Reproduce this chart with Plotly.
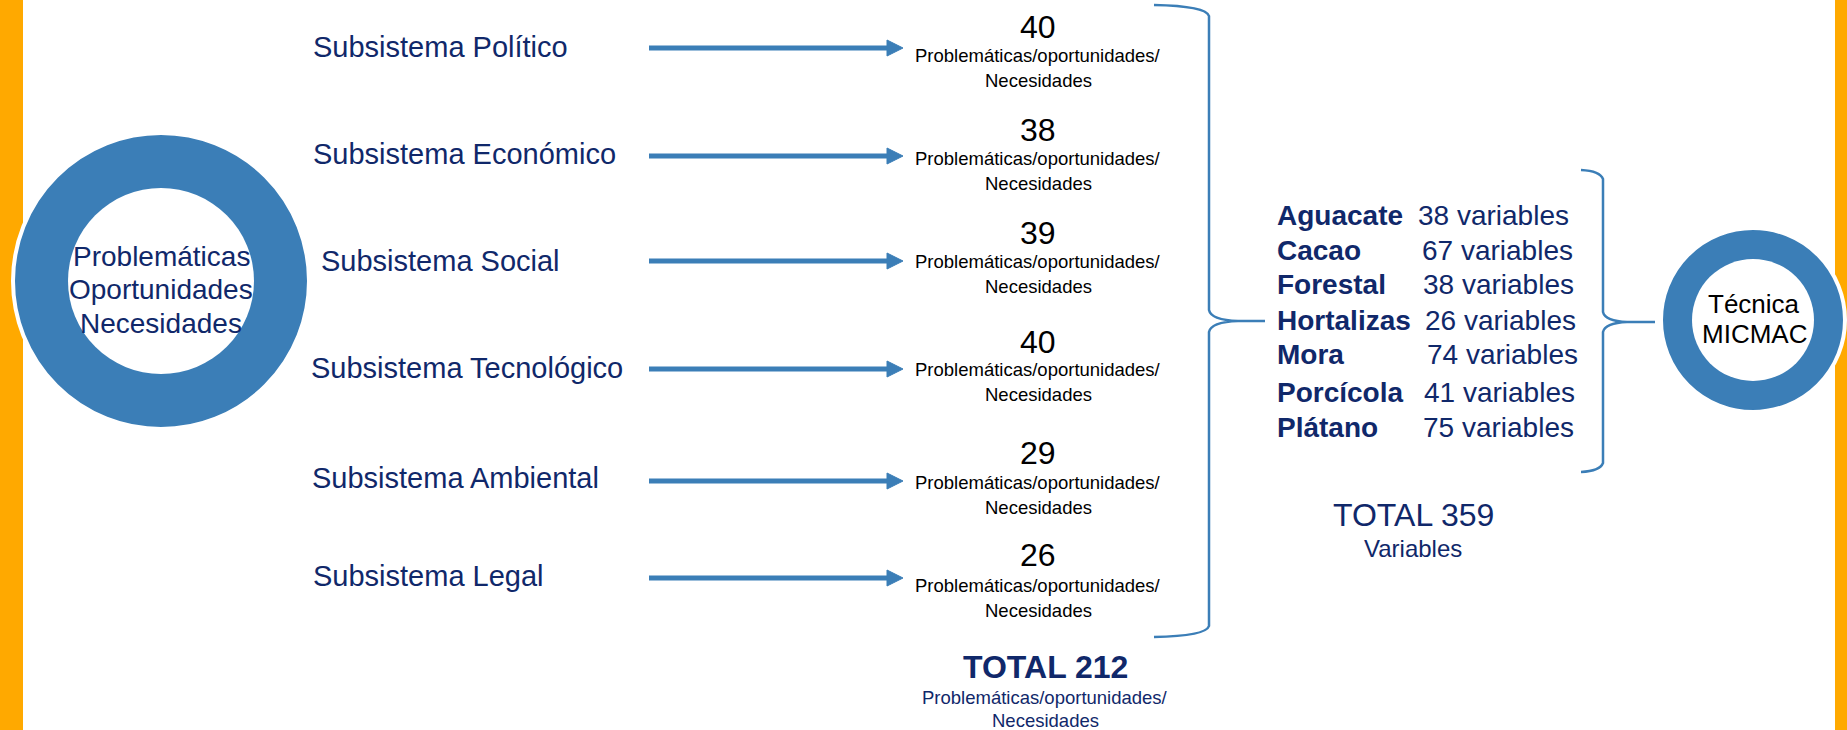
import plotly.graph_objects as go

# ---------------- data ----------------
subsystems = ["Subsistema Político", "Subsistema Económico", "Subsistema Social",
              "Subsistema Tecnológico", "Subsistema Ambiental", "Subsistema Legal"]
sub_counts = [40, 38, 39, 40, 29, 26]
sub_unit = ["Problemáticas/oportunidades/", "Necesidades"]

products = ["Aguacate", "Cacao", "Forestal", "Hortalizas", "Mora", "Porcícola", "Plátano"]
prod_vars = [38, 67, 38, 26, 74, 41, 75]

center_left = ["Problemáticas", "Oportunidades", "Necesidades"]
center_right = ["Técnica", "MICMAC"]

# ---------------- layout / style ----------------
W, H = 1847, 730
BLUE = "#3B7EB7"
NAVY = "#10286A"
ORANGE = "#FFA900"
FONT = "Liberation Sans, Arial, sans-serif"

label_x = [311, 311, 319, 309, 310, 311]
row_y = [47, 154, 261, 368, 478, 576]          # label rows
num_y = [27, 130, 233, 342, 453, 555]
unit_y = [55, 158, 261, 369, 482, 585]
arrow_y = [48, 156, 261, 369, 481, 578]
num_x = 1038
arrow_x0, arrow_x1 = 649, 903

prod_y = [215, 250, 284, 320, 354, 392, 427]
prod_name_x = 1275
prod_val_x = [1416, 1420, 1421, 1423, 1425, 1422, 1421]

fig = go.Figure()
fig.add_trace(go.Scatter(x=[0, W], y=[0, H], mode="markers",
                         marker=dict(opacity=0), hoverinfo="skip", showlegend=False))

shapes = []
annotations = []

def txt(x, y, s, size, color=NAVY, bold=False, xanchor="center"):
    annotations.append(dict(
        x=x, y=y, xref="x", yref="y", text=("<b>%s</b>" % s) if bold else s,
        showarrow=False, xanchor=xanchor, yanchor="middle",
        font=dict(family=FONT, size=size, color=color)))

# orange side bars
shapes.append(dict(type="rect", xref="x", yref="y", x0=0, x1=23, y0=0, y1=H,
                   fillcolor=ORANGE, line=dict(width=0), layer="below"))
shapes.append(dict(type="rect", xref="x", yref="y", x0=1835, x1=W, y0=0, y1=H,
                   fillcolor=ORANGE, line=dict(width=0), layer="below"))

def ring(cx, cy, r_out, r_in):
    shapes.append(dict(type="circle", xref="x", yref="y",
                       x0=cx - r_out, x1=cx + r_out, y0=cy - r_out, y1=cy + r_out,
                       fillcolor=BLUE, line=dict(color="white", width=4)))
    shapes.append(dict(type="circle", xref="x", yref="y",
                       x0=cx - r_in, x1=cx + r_in, y0=cy - r_in, y1=cy + r_in,
                       fillcolor="white", line=dict(width=0)))

ring(161, 281, 148, 93)
ring(1753, 320, 92, 61)

for i, s in enumerate(center_left):
    txt(161, 256 + i * 33.5, s, 28)
for i, s in enumerate(center_right):
    txt(1754, 304 + i * 30, s, 26, color="black")

# subsystem rows
for i, name in enumerate(subsystems):
    txt(label_x[i], row_y[i], name, 29, xanchor="left")
    ay = arrow_y[i]
    shapes.append(dict(type="line", xref="x", yref="y", x0=arrow_x0, x1=arrow_x1 - 14,
                       y0=ay, y1=ay, line=dict(color=BLUE, width=5)))
    shapes.append(dict(type="path", xref="x", yref="y",
                       path="M %d %d L %d %d L %d %d Z" % (arrow_x1 - 16, ay - 8,
                                                        arrow_x1, ay,
                                                        arrow_x1 - 16, ay + 8),
                       fillcolor=BLUE, line=dict(color=BLUE, width=1)))
    txt(num_x, num_y[i], str(sub_counts[i]), 32, color="black")
    txt(num_x, unit_y[i], sub_unit[0], 18.5, color="black")
    txt(num_x, unit_y[i] + 25, sub_unit[1], 18.5, color="black")

# big bracket
shapes.append(dict(type="path", xref="x", yref="y",
                   path=("M 1154 5 Q 1206 6 1209 16 L 1209 310 Q 1211 320 1238 321 L 1265 321 "
                         "M 1265 321 L 1238 321 Q 1211 322 1209 332 L 1209 626 Q 1206 636 1154 637"),
                   line=dict(color=BLUE, width=2.5)))

total_sub = sum(sub_counts)
txt(1045, 667, "TOTAL %d" % total_sub, 32, bold=True)
txt(1045, 697, sub_unit[0], 18.5)
txt(1045, 720, sub_unit[1], 18.5)

# products list
for i, p in enumerate(products):
    txt(prod_name_x, prod_y[i], p, 28, bold=True, xanchor="left")
    txt(prod_val_x[i], prod_y[i], "%d variables" % prod_vars[i], 28, xanchor="left")

# second bracket
shapes.append(dict(type="path", xref="x", yref="y",
                   path=("M 1581 170 Q 1600 171 1603 179 L 1603 312 Q 1605 321 1627 322 L 1655 322 "
                         "M 1655 322 L 1627 322 Q 1605 323 1603 332 L 1603 463 Q 1600 471 1581 472"),
                   line=dict(color=BLUE, width=2.5)))

txt(1413, 515, "TOTAL %d" % sum(prod_vars), 32)
txt(1413, 548, "Variables", 24)

fig.update_layout(
    width=W, height=H, margin=dict(l=0, r=0, t=0, b=0),
    paper_bgcolor="white", plot_bgcolor="white",
    xaxis=dict(range=[0, W], visible=False, fixedrange=True),
    yaxis=dict(range=[H, 0], visible=False, fixedrange=True),
    shapes=shapes, annotations=annotations, showlegend=False,
)

fig.write_html("out.html", config={"displayModeBar": False},
               post_script="document.body.style.margin='0px';document.body.style.overflow='hidden';")
